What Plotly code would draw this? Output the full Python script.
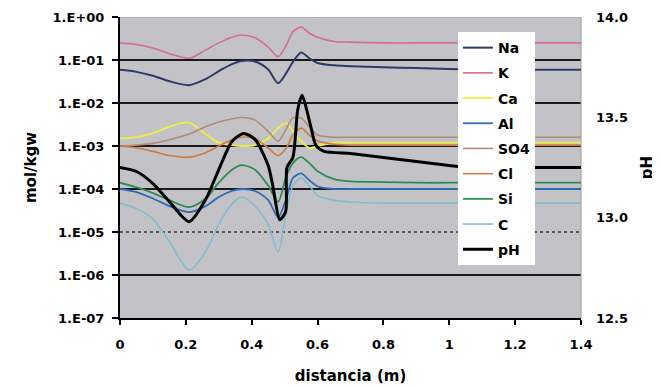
import plotly.graph_objects as go

# ---------------- data ----------------
DIST = [0, 0.05, 0.1, 0.15, 0.21, 0.26, 0.3, 0.34, 0.37, 0.41, 0.45, 0.48, 0.505,
        0.525, 0.55, 0.575, 0.6, 0.65, 0.7, 0.8, 0.9, 1.0, 1.1, 1.2, 1.3, 1.4]

NA = [0.059, 0.053, 0.043, 0.032, 0.026, 0.036, 0.055, 0.08, 0.095, 0.092, 0.06, 0.029, 0.05,
      0.09, 0.15, 0.11, 0.085, 0.075, 0.072, 0.068, 0.065, 0.062, 0.06, 0.06, 0.059, 0.059]
K = [0.25, 0.23, 0.19, 0.14, 0.11, 0.17, 0.25, 0.34, 0.38, 0.33, 0.2, 0.12, 0.22,
     0.45, 0.58, 0.42, 0.34, 0.27, 0.26, 0.25, 0.25, 0.25, 0.25, 0.25, 0.25, 0.25]
CA = [1.5e-3, 1.6e-3, 2.0e-3, 2.8e-3, 3.5e-3, 1.9e-3, 1.2e-3, 1.05e-3, 1.0e-3, 1.05e-3, 1.5e-3, 2.6e-3, 3.4e-3,
      2.2e-3, 1.3e-3, 9e-4, 1.0e-3, 1.2e-3, 1.2e-3, 1.2e-3, 1.2e-3, 1.2e-3, 1.2e-3, 1.2e-3, 1.2e-3, 1.2e-3]
AL = [1.0e-4, 8.5e-5, 6e-5, 4e-5, 2.9e-5, 4e-5, 6.5e-5, 9e-5, 1.0e-4, 9e-5, 5.5e-5, 2.2e-5, 6e-5,
      1.8e-4, 2.3e-4, 1.6e-4, 1.15e-4, 1.0e-4, 1.0e-4, 1.0e-4, 1.0e-4, 1.0e-4, 1.0e-4, 1.0e-4, 1.0e-4, 1.0e-4]
SO4 = [1.0e-3, 1.05e-3, 1.15e-3, 1.4e-3, 1.9e-3, 2.8e-3, 3.6e-3, 4.3e-3, 4.6e-3, 4.0e-3, 2.2e-3, 1.3e-3, 2.5e-3,
       4.5e-3, 4.5e-3, 2.8e-3, 1.8e-3, 1.6e-3, 1.6e-3, 1.6e-3, 1.6e-3, 1.6e-3, 1.6e-3, 1.6e-3, 1.6e-3, 1.6e-3]
CL = [1.0e-3, 9e-4, 7.5e-4, 6e-4, 5.5e-4, 7e-4, 1.0e-3, 1.4e-3, 1.6e-3, 1.5e-3, 9e-4, 6e-4, 9e-4,
      1.8e-3, 2.6e-3, 1.8e-3, 1.3e-3, 1.1e-3, 1.05e-3, 1.05e-3, 1.05e-3, 1.05e-3, 1.05e-3, 1.05e-3, 1.05e-3, 1.05e-3]
SI = [1.4e-4, 1.1e-4, 8e-5, 5.5e-5, 3.8e-5, 6e-5, 1.4e-4, 2.8e-4, 3.6e-4, 2.8e-4, 1.2e-4, 5e-5, 2e-4,
      4e-4, 5.5e-4, 4e-4, 2.6e-4, 1.7e-4, 1.5e-4, 1.45e-4, 1.4e-4, 1.4e-4, 1.4e-4, 1.4e-4, 1.4e-4, 1.4e-4]
C = [4.7e-5, 3.5e-5, 2e-5, 6e-6, 1.3e-6, 3.5e-6, 1.5e-5, 4.5e-5, 6.5e-5, 4e-5, 1.5e-5, 3.4e-6, 3e-5,
     1.2e-4, 1.8e-4, 1.2e-4, 7e-5, 5.5e-5, 5e-5, 4.7e-5, 4.7e-5, 4.7e-5, 4.7e-5, 4.7e-5, 4.7e-5, 4.7e-5]

DIST_PH = [0, 0.05, 0.1, 0.15, 0.21, 0.26, 0.3, 0.34, 0.375, 0.41, 0.45, 0.465, 0.485, 0.503, 0.507,
           0.525, 0.54, 0.553, 0.565, 0.58, 0.595, 0.62, 0.7, 0.75, 0.8, 0.85, 0.9, 0.95, 1.0, 1.05, 1.2, 1.4]
PH = [13.25, 13.23, 13.17, 13.08, 12.98, 13.09, 13.24, 13.38, 13.42, 13.39, 13.26, 13.15, 12.99, 13.03, 13.25,
      13.30, 13.54, 13.61, 13.55, 13.45, 13.36, 13.33, 13.32, 13.31, 13.30, 13.29, 13.28, 13.27, 13.26, 13.25, 13.25, 13.25]

SERIES_NAMES = ["Na", "K", "Ca", "Al", "SO4", "Cl", "Si", "C"]
SERIES_VALUES = [NA, K, CA, AL, SO4, CL, SI, C]
SERIES_COLORS = ["#2b3a67", "#d46a9e", "#eeee44", "#2f6cb4", "#b08b78", "#cc7a40", "#2e8b57", "#80bcd0"]
SERIES_WIDTHS = [2, 1.6, 1.8, 1.8, 1.6, 1.6, 1.8, 1.6]

Y_EXPONENTS = [0, -1, -2, -3, -4, -5, -6, -7]
X_TICKS = [0, 0.2, 0.4, 0.6, 0.8, 1.0, 1.2, 1.4]
X_TICKTEXT = ["0", "0.2", "0.4", "0.6", "0.8", "1", "1.2", "1.4"]
PH_TICKS = [12.5, 13.0, 13.5, 14.0]
PH_TICKTEXT = ["12.5", "13.0", "13.5", "14.0"]

# ---------------- figure ----------------
FONT = "DejaVu Sans"
fig = go.Figure()

for name, vals, col, w in zip(SERIES_NAMES, SERIES_VALUES, SERIES_COLORS, SERIES_WIDTHS):
    fig.add_trace(go.Scatter(x=DIST, y=vals, name=name, mode="lines",
                             line=dict(color=col, width=w, shape="spline", smoothing=0.8),
                             legendgroup=name))

fig.add_trace(go.Scatter(x=DIST_PH, y=PH, name="pH", mode="lines", yaxis="y2",
                         line=dict(color="black", width=3, shape="spline", smoothing=0.7),
                         legendgroup="pH"))

# gridlines at decades (1.E-05 dotted)
for e in Y_EXPONENTS[1:-1]:
    fig.add_shape(type="line", xref="paper", yref="y", x0=0, x1=1, y0=10 ** e, y1=10 ** e,
                  layer="between",
                  line=dict(color="#1a1a1a" if e != -5 else "#333333", width=2 if e != -5 else 1.5,
                            dash="solid" if e != -5 else "dot"))
fig.add_shape(type="line", xref="paper", yref="y", x0=0, x1=1, y0=1, y1=1, layer="between",
              line=dict(color="#9a9a9a", width=1))
fig.add_shape(type="line", xref="paper", yref="paper", x0=1, x1=1, y0=0, y1=1, layer="between",
              line=dict(color="#9a9a9a", width=1))

y_ticktext = ["1.E+00" if e == 0 else "1.E-%02d" % (-e) for e in Y_EXPONENTS]

# the page body adds an 8px margin, so the margins are offset to land the plot where the reference has it
fig.update_layout(
    width=660, height=387,
    margin=dict(l=112, r=87, t=9, b=77, autoexpand=False),
    paper_bgcolor="white",
    plot_bgcolor="#c3c3c7",
    font=dict(family=FONT, size=13, color="black"),
    showlegend=True,
    legend=dict(x=0.733, y=0.95, xanchor="left", yanchor="top",
                bgcolor="white", borderwidth=0,
                font=dict(family=FONT, size=14, color="black", weight="bold"),
                tracegroupgap=4, traceorder="grouped"),
    xaxis=dict(range=[0, 1.4], tickvals=X_TICKS, ticktext=X_TICKTEXT,
               showgrid=False, zeroline=False, automargin=False,
               showline=True, linecolor="black", linewidth=2,
               ticks="outside", ticklen=5, tickwidth=2, tickcolor="black",
               ticklabelstandoff=8,
               tickfont=dict(family=FONT, size=13, color="black", weight="bold"),
               title=dict(text="distancia (m)", standoff=20,
                          font=dict(family=FONT, size=15, color="black", weight="bold"))),
    yaxis=dict(type="log", range=[-7, 0], tickvals=[10 ** e for e in Y_EXPONENTS],
               ticktext=y_ticktext, showgrid=False, zeroline=False, automargin=False,
               showline=True, linecolor="black", linewidth=2,
               ticks="outside", ticklen=6, tickwidth=2, tickcolor="black",
               ticklabelstandoff=5,
               tickfont=dict(family=FONT, size=13, color="black", weight="bold"),
               title=dict(text="mol/kgw", standoff=12,
                          font=dict(family=FONT, size=15, color="black", weight="bold"))),
    yaxis2=dict(range=[12.5, 14.0], overlaying="y", side="right", automargin=False,
                tickvals=PH_TICKS, ticktext=PH_TICKTEXT, showgrid=False, zeroline=False,
                showline=False, ticks="", ticklabelstandoff=14,
                tickfont=dict(family=FONT, size=13, color="black", weight="bold"),
                title=dict(text="pH", standoff=14,
                           font=dict(family=FONT, size=15, color="black", weight="bold"))),
)

fig.write_html("out.html")
